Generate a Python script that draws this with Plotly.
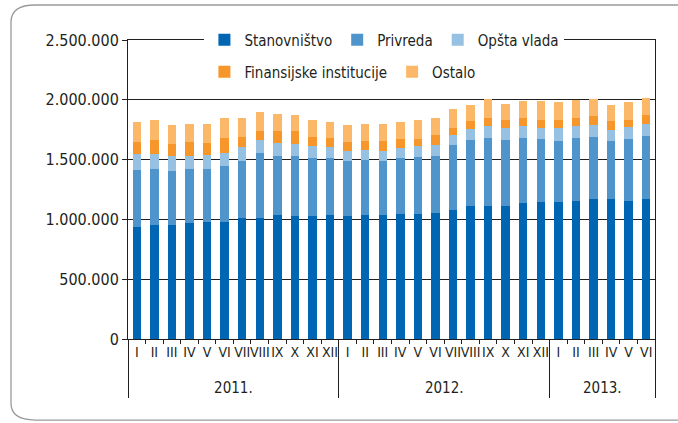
import plotly.graph_objects as go

months = ["I", "II", "III", "IV", "V", "VI", "VII", "VIII", "IX", "X", "XI", "XII"]
years = ["2011."] * 12 + ["2012."] * 12 + ["2013."] * 6
month_labels = months + months + months[:6]

stanovnistvo = [939, 953, 953, 972, 980, 980, 1011, 1011, 1039, 1028, 1028, 1039,
                1028, 1039, 1039, 1047, 1047, 1056, 1081, 1112, 1112, 1112, 1140, 1148,
                1148, 1156, 1168, 1168, 1156, 1168]
privreda = [474, 472, 452, 453, 445, 470, 481, 545, 495, 506, 489, 478,
            464, 461, 453, 470, 478, 478, 539, 556, 572, 556, 544, 528,
            511, 528, 525, 491, 520, 533]
opsta_vlada = [134, 122, 123, 103, 114, 106, 111, 106, 108, 97, 98, 86,
               83, 84, 83, 78, 90, 89, 87, 86, 98, 97, 98, 89,
               106, 98, 100, 87, 98, 98]
finansijske = [101, 121, 100, 120, 101, 126, 90, 81, 93, 104, 78, 81,
               76, 75, 84, 81, 61, 81, 61, 67, 70, 65, 62, 70,
               65, 70, 73, 75, 61, 78]
ostalo = [170, 162, 162, 151, 159, 167, 156, 151, 148, 139, 142, 134,
          139, 140, 140, 142, 154, 142, 154, 137, 154, 139, 142, 151,
          148, 145, 140, 137, 143, 140]

series = [
    ("Stanovništvo", stanovnistvo, "#0066b3", "legend"),
    ("Privreda", privreda, "#4f95cb", "legend"),
    ("Opšta vlada", opsta_vlada, "#96c1e3", "legend"),
    ("Finansijske institucije", finansijske, "#f7962b", "legend2"),
    ("Ostalo", ostalo, "#fbb869", "legend2"),
]

FONT = "DejaVu Sans Condensed, Liberation Sans Narrow, sans-serif"
TXT = "#231f20"

year_labels = ["<br><span style='font-size:15px'>" + y + "</span>" for y in years]

fig = go.Figure()
for name, vals, color, lg in series:
    fig.add_trace(go.Bar(
        x=[year_labels, month_labels],
        y=[v * 1000 for v in vals],
        name=name,
        marker=dict(color=color, line=dict(width=0)),
        legend=lg,
    ))

fig.update_layout(
    barmode="stack",
    bargap=0.52,
    width=678,
    height=423,
    margin=dict(l=128, r=23, t=40, b=84, autoexpand=False),
    paper_bgcolor="white",
    plot_bgcolor="white",
    separators=",.",
    font=dict(family=FONT, size=15, color=TXT),
    legend=dict(
        orientation="h", x=0.145, xanchor="left", y=1.0, yanchor="middle",
        bgcolor="white", font=dict(size=15, family=FONT, color=TXT),
        itemwidth=30, traceorder="normal",
    ),
    legend2=dict(
        orientation="h", x=0.145, xanchor="left", y=0.893, yanchor="middle",
        bgcolor="rgba(255,255,255,0)", font=dict(size=15, family=FONT, color=TXT),
        itemwidth=30, traceorder="normal",
    ),
    xaxis=dict(
        type="multicategory", automargin=False,
        showline=True, linecolor="#231f20", linewidth=1, mirror=True,
        ticks="outside", ticklen=4, tickcolor="#231f20",
        showdividers=True, dividercolor="#231f20", dividerwidth=1,
        tickangle=0,
        tickfont=dict(size=14, family=FONT, color=TXT),
        showgrid=False,
    ),
    yaxis=dict(
        range=[0, 2500000], dtick=500000, tickformat=",d", automargin=False,
        showline=True, linecolor="#231f20", linewidth=1, mirror=True,
        showgrid=True, gridcolor="#231f20", gridwidth=1,
        ticks="outside", ticklen=5, tickcolor="#231f20",
        tickfont=dict(size=16, family=FONT, color=TXT),
        zeroline=False,
    ),
    shapes=[dict(
        type="path", xref="paper", yref="paper", layer="below",
        path="M 1.3,1.117 L -0.176,1.117 Q -0.222,1.117 -0.222,1.06 L -0.222,-0.215 Q -0.222,-0.271 -0.176,-0.271 L 1.3,-0.271",
        line=dict(color="#9a9a9a", width=1.3),
    )],
)

fig.write_html(
    "out.html",
    config={"displayModeBar": False},
    post_script="document.body.style.margin='0';document.body.style.overflow='hidden';",
)
